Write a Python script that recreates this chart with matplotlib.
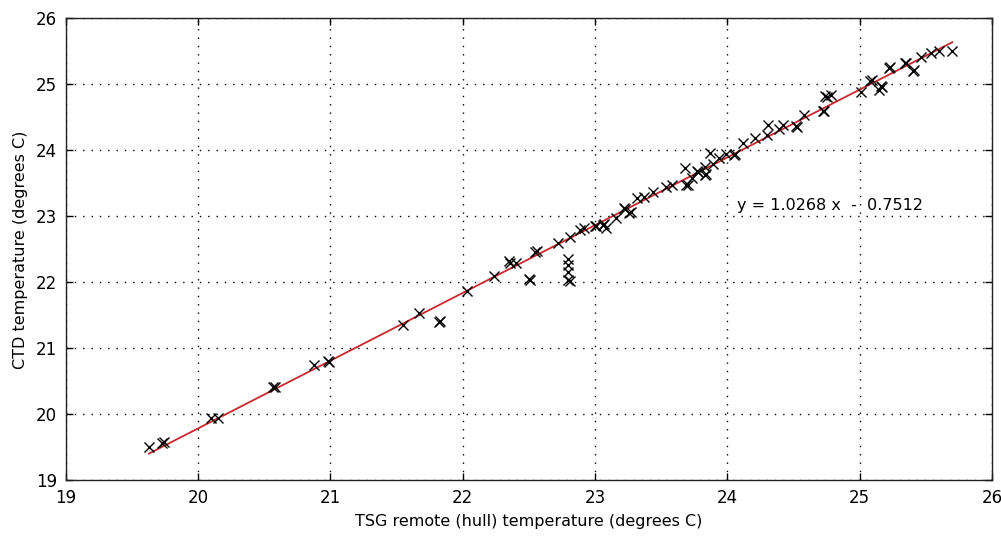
import numpy as np
import matplotlib
matplotlib.use("Agg")
import matplotlib.pyplot as plt

plt.rcParams['font.family'] = ['DejaVu Sans']

# TSG hull temperature vs CTD temperature (degrees C)
tsg_temp = [
    19.63, 19.73, 19.74, 20.10, 20.15, 20.58, 20.57, 20.88, 20.98, 20.99,
    21.55, 21.67, 21.82, 21.83, 22.03, 22.24, 22.35, 22.36, 22.40, 22.50,
    22.51, 22.55, 22.56, 22.72, 22.80, 22.80, 22.80, 22.80, 22.81, 22.81,
    22.89, 22.92, 23.00, 23.01, 23.06, 23.07, 23.08, 23.16, 23.22, 23.23,
    23.26, 23.27, 23.32, 23.37, 23.44, 23.54, 23.58, 23.68, 23.69, 23.70,
    23.73, 23.77, 23.78, 23.83, 23.84, 23.83, 23.87, 23.89, 23.94, 23.99,
    24.05, 24.06, 24.12, 24.21, 24.30, 24.31, 24.39, 24.42, 24.52, 24.53,
    24.58, 24.72, 24.73, 24.74, 24.75, 24.78, 25.01, 25.08, 25.09, 25.17,
    25.16, 25.15, 25.22, 25.23, 25.34, 25.35, 25.40, 25.41, 25.46, 25.54,
    25.60, 25.70,
]
ctd_temp = [
    19.50, 19.57, 19.58, 19.95, 19.94, 20.41, 20.42, 20.75, 20.81, 20.80,
    21.35, 21.53, 21.40, 21.41, 21.87, 22.10, 22.32, 22.30, 22.29, 22.05,
    22.03, 22.46, 22.47, 22.59, 22.35, 22.26, 22.16, 22.03, 22.02, 22.69,
    22.80, 22.82, 22.85, 22.86, 22.87, 22.88, 22.83, 22.97, 23.12, 23.11,
    23.05, 23.06, 23.27, 23.30, 23.37, 23.45, 23.47, 23.73, 23.47, 23.48,
    23.58, 23.68, 23.67, 23.63, 23.64, 23.75, 23.96, 23.80, 23.88, 23.95,
    23.93, 23.94, 24.11, 24.18, 24.23, 24.38, 24.33, 24.38, 24.37, 24.36,
    24.53, 24.59, 24.60, 24.82, 24.81, 24.84, 24.89, 25.05, 25.06, 24.96,
    24.97, 24.92, 25.25, 25.26, 25.33, 25.32, 25.20, 25.21, 25.42, 25.47,
    25.50, 25.51,
]

# Linear fit coefficients
fit_slope = 1.0268
fit_intercept = -0.7512

x_ticks = [19, 20, 21, 22, 23, 24, 25, 26]
y_ticks = [19, 20, 21, 22, 23, 24, 25, 26]

fig = plt.figure(figsize=(10.01, 5.42), dpi=100)
ax = fig.add_axes([0.0655, 0.1138, 0.9255, 0.8524])

xf = np.array([min(tsg_temp), max(tsg_temp)])
ax.plot(xf, fit_slope * xf + fit_intercept, color='#c8282d', lw=1.3, zorder=2)
ax.plot(tsg_temp, ctd_temp, linestyle='none', marker='x', color='black',
        markersize=6.5, markeredgewidth=1.0, zorder=3)

ax.text(24.07, 23.16,
        f"y = {fit_slope:.4f} x  -  {abs(fit_intercept):.4f}",
        fontsize=11.5, va='center', ha='left', zorder=4)

ax.set_xlim(19, 26)
ax.set_ylim(19, 26)
ax.set_xticks(x_ticks)
ax.set_yticks(y_ticks)
ax.grid(True, color='black', linestyle=(0, (1, 5)), lw=1.0)
ax.tick_params(direction='in', top=True, right=True, length=5, width=1,
               labelsize=12, pad=6)
for s in ax.spines.values():
    s.set_linewidth(1.0)
    s.set_color('#202020')

ax.set_xlabel("TSG remote (hull) temperature (degrees C)", fontsize=11.5, labelpad=5)
ax.set_ylabel("CTD temperature (degrees C)", fontsize=11.5, labelpad=6)

fig.savefig("out.png", dpi=100)
